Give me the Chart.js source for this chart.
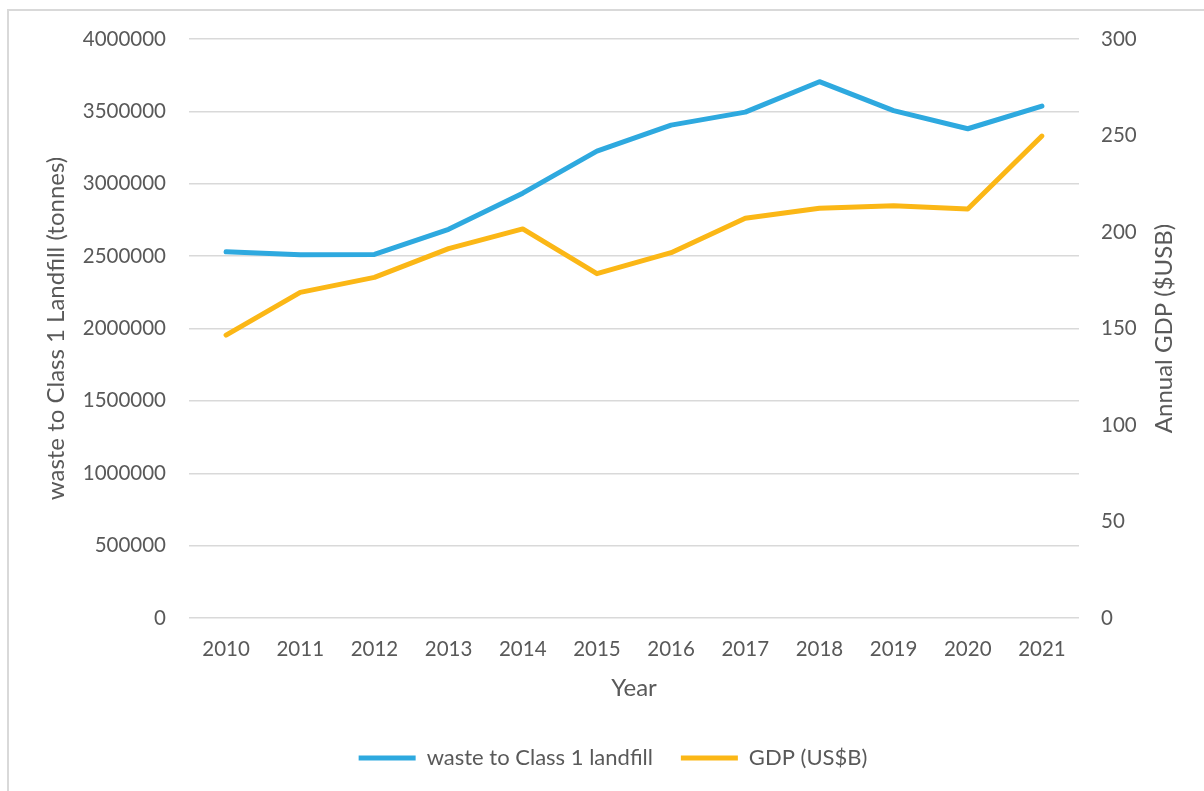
<!DOCTYPE html>
<html>
<head>
<meta charset="utf-8">
<script src="https://cdn.jsdelivr.net/npm/chart.js@4"></script>
<style>
  html, body { margin: 0; padding: 0; background: #fff; overflow: hidden; }
  #frame { position: absolute; left: 7px; top: 9px; width: 1300px; height: 900px; border: 2px solid #d9d9d9; }
  #waste { position: absolute; left: 0; top: 0; }
</style>
</head>
<body>
<div id="frame"></div>
<canvas id="waste" width="1204" height="791"></canvas>
<script>
// data
const years = ['2010', '2011', '2012', '2013', '2014', '2015', '2016', '2017', '2018', '2019', '2020', '2021'];
const wasteTonnes = [2530000, 2510000, 2512000, 2685000, 2935000, 3225000, 3405000, 3495000, 3705000, 3505000, 3380000, 3537000];
const gdpBillions = [146.6, 168.7, 176.5, 191.4, 201.6, 178.4, 189.3, 207.1, 212.3, 213.6, 211.9, 249.7];

const textGrey = '#595959';
const tickFont = { family: 'Lato', size: 20.5 };
const titleFont = { family: 'Lato', size: 24 };
const legendFont = { family: 'Lato', size: 22 };

// right axis title reads bottom to top, like excel does it
const rightTitle = {
  id: 'rightTitle',
  afterDraw(chart) {
    const s = chart.scales.y1;
    const ctx = chart.ctx;
    ctx.save();
    ctx.translate(1164, (s.top + s.bottom) / 2);
    ctx.rotate(-Math.PI / 2);
    ctx.font = '24px Lato';
    ctx.fillStyle = textGrey;
    ctx.textAlign = 'center';
    ctx.textBaseline = 'middle';
    ctx.fillText('Annual GDP ($USB)', 0, 0);
    ctx.restore();
  }
};

const lineData = {
  labels: years,
  datasets: [{
    label: 'waste to Class 1 landfill',
    data: wasteTonnes,
    borderColor: '#2ea9df',
    backgroundColor: '#2ea9df',
    borderWidth: 5,
    borderCapStyle: 'round',
    borderJoinStyle: 'round',
    pointRadius: 0,
    yAxisID: 'y'
  }, {
    label: 'GDP (US$B)',
    data: gdpBillions,
    borderColor: '#fbb716',
    backgroundColor: '#fbb716',
    borderWidth: 5,
    borderCapStyle: 'round',
    borderJoinStyle: 'round',
    pointRadius: 0,
    yAxisID: 'y1'
  }]
};

const wasteChart = {
  type: 'line',
  data: lineData,
  options: {
    responsive: false,
    animation: false,
    // left padding pushes the legend centre over to where excel put it
    layout: { padding: { top: 39, left: 22, right: 0, bottom: 12 } },
    plugins: {
      legend: {
        position: 'bottom',
        labels: {
          usePointStyle: true,
          pointStyle: 'line',
          pointStyleWidth: 57,
          color: textGrey,
          font: legendFont,
          padding: 28
        }
      },
      tooltip: { enabled: false }
    },
    scales: {
      x: {
        offset: true,
        grid: { display: false, drawTicks: false },
        border: { display: false },
        ticks: { color: textGrey, font: tickFont, padding: 19 },
        title: { display: true, text: 'Year', color: textGrey, font: titleFont, padding: { top: 4, bottom: 16.5 } },
        afterFit: s => { s.height = 101; }
      },
      y: {
        position: 'left',
        min: 0,
        max: 4000000,
        grid: { color: '#d9d9d9', lineWidth: 1.5, drawTicks: false },
        border: { display: false },
        ticks: { stepSize: 500000, color: textGrey, font: tickFont, padding: 23, callback: v => v },
        title: { display: true, text: 'waste to Class 1 Landfill (tonnes)', color: textGrey, font: titleFont, padding: { top: 19.5, bottom: 0 } },
        afterFit: s => { s.width = 167; }
      },
      y1: {
        position: 'right',
        min: 0,
        max: 300,
        grid: { drawOnChartArea: false, drawTicks: false },
        border: { display: false },
        ticks: { stepSize: 50, color: textGrey, font: tickFont, padding: 22 },
        afterFit: s => { s.width = 125; }
      }
    }
  },
  plugins: [rightTitle]
};

var myWasteChart = new Chart(document.getElementById('waste'), wasteChart);
</script>
</body>
</html>
